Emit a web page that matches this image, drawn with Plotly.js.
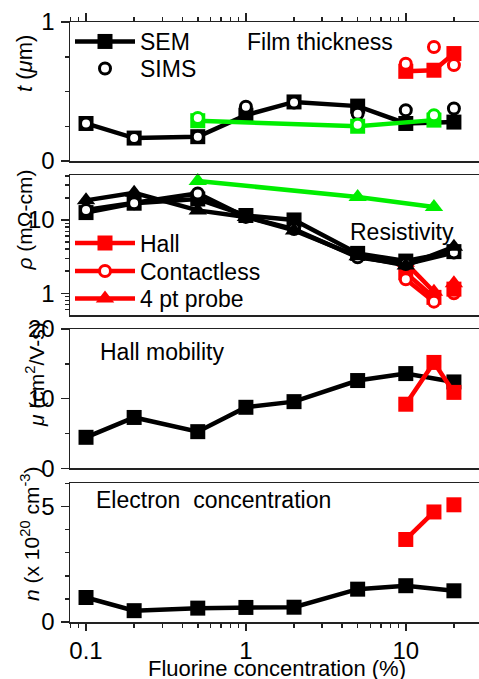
<!DOCTYPE html>
<html><head><meta charset="utf-8">
<script src="https://cdn.plot.ly/plotly-3.0.1.min.js"></script>
<style>html,body{margin:0;padding:0;background:#fff}#chart{width:479px;height:679px}</style>
</head><body><div id="chart"></div><script>
// Fluorine concentration (%)
const xMain = [0.1, 0.2, 0.5, 1, 2, 5, 10, 20];
const xGreen = [0.5, 5, 15];
const xRed = [10, 15, 20];

// Film thickness t (um)
const tSemBlack = [0.27, 0.165, 0.175, 0.33, 0.425, 0.395, 0.27, 0.28];
const tSimsBlack = [0.27, 0.165, 0.175, 0.39, 0.42, 0.34, 0.366, 0.378];
const tSemGreen = [0.29, 0.25, 0.294];
const tSimsGreen = [0.31, 0.26, 0.33];
const tSemRed = [0.645, 0.653, 0.773];
const tSimsRed = [0.70, 0.82, 0.69];

// Resistivity rho (mOhm-cm)
const rhoHallBlack = [12.6, 16.9, 19.3, 11.5, 10, 3.5, 2.75, 3.7];
const rhoContBlack = [13.7, 16.9, 23, 11, 7.5, 3.1, 2.5, 3.6];
const rho4ptBlack = [18.5, 23.5, 13.5, 11, 7.2, 3.2, 2.4, 4.3];
const rho4ptGreen = [34, 20.5, 15];
const rhoHallRed = [1.9, 0.88, 1.14];
const rhoContRed = [1.55, 0.77, 1.0];
const rho4ptRed = [2.6, 1.05, 1.37];

// Hall mobility (cm2/V-s)
const muBlack = [4.45, 7.3, 5.26, 8.76, 9.57, 12.6, 13.6, 12.4];
const muRed = [9.2, 15.2, 10.9];

// Electron concentration (1e20 cm^-3)
const nBlack = [1.06, 0.49, 0.6, 0.63, 0.64, 1.42, 1.57, 1.35];
const nRed = [3.57, 4.76, 5.07];

// Tick labels
const xTickVals = [0.1, 1, 10];
const xTickText = ['0.1', '1', '10'];
const xMinorVals = [0.08, 0.09, 0.2, 0.3, 0.4, 0.5, 0.6, 0.7, 0.8, 0.9, 2, 3, 4, 5, 6, 7, 8, 9, 20];
const tTickVals = [0, 1];
const tMinorVals = [0.25, 0.5, 0.75];
const rhoTickVals = [1, 10];
const rhoTickText = ['1', '10'];
const rhoMinorVals = [0.6, 0.7, 0.8, 0.9, 2, 3, 4, 5, 6, 7, 8, 9, 20, 30, 40];
const muTickVals = [0, 10, 20];
const muMinorVals = [5, 15];
const nTickVals = [0, 5];
const nMinorVals = [1, 2, 3, 4, 6];

const W = 479, H = 679, ML = 70, MR = 0, MT = 22, MB = 57;
const PH = H - MT - MB, PW = W - ML - MR;
const py = y => (H - MB - y) / PH;
const px = x => (x - ML) / PW;

const FONT = 'Liberation Sans, Arial, sans-serif';
const BLACK = '#000000', RED = '#ff0000', GREEN = '#00ee00';
const LW = 4.5;
const TXT = 23;

function sq(c) { return {symbol: 'square', size: 15, color: c, line: {width: 0}}; }
function circ(c) { return {symbol: 'circle', size: 11, color: '#ffffff', line: {color: c, width: 3}}; }
function tri(c) { return {symbol: 'triangle-up', size: 16, color: c, line: {width: 0}}; }

function tr(x, y, xa, ya, mode, marker, color, extra) {
  return Object.assign({x: x, y: y, xaxis: xa, yaxis: ya, mode: mode, marker: marker,
    line: {color: color, width: LW}, showlegend: false, hoverinfo: 'skip', cliponaxis: false}, extra || {});
}

const traces = [
  // Panel 1: film thickness
  tr(xMain, tSemBlack, 'x2', 'y', 'lines+markers', sq(BLACK), BLACK, {name: 'SEM', showlegend: true, legend: 'legend'}),
  tr(xMain, tSimsBlack, 'x2', 'y', 'markers', circ(BLACK), BLACK, {name: 'SIMS', showlegend: true, legend: 'legend2'}),
  tr(xGreen, tSemGreen, 'x2', 'y', 'lines+markers', sq(GREEN), GREEN),
  tr(xGreen, tSimsGreen, 'x2', 'y', 'markers', circ(GREEN), GREEN),
  tr(xRed, tSemRed, 'x2', 'y', 'lines+markers', sq(RED), RED),
  tr(xRed, tSimsRed, 'x2', 'y', 'markers', circ(RED), RED),

  // Panel 2: resistivity (red first, drawn under black)
  tr(xRed.slice(0, 2), rhoHallRed.slice(0, 2), 'x3', 'y2', 'lines+markers', sq(RED), RED, {name: 'Hall', showlegend: true, legend: 'legend3'}),
  tr(xRed.slice(0, 2), rhoContRed.slice(0, 2), 'x3', 'y2', 'lines+markers', circ(RED), RED, {name: 'Contactless', showlegend: true, legend: 'legend4'}),
  tr(xRed.slice(0, 2), rho4ptRed.slice(0, 2), 'x3', 'y2', 'lines+markers', tri(RED), RED, {name: '4 pt probe', showlegend: true, legend: 'legend5'}),
  tr(xRed.slice(2), rhoContRed.slice(2), 'x3', 'y2', 'markers', circ(RED), RED),
  tr(xRed.slice(2), rhoHallRed.slice(2), 'x3', 'y2', 'markers', sq(RED), RED),
  tr(xRed.slice(2), rho4ptRed.slice(2), 'x3', 'y2', 'markers', tri(RED), RED),
  tr(xMain, rhoHallBlack, 'x3', 'y2', 'lines+markers', sq(BLACK), BLACK),
  tr(xMain, rhoContBlack, 'x3', 'y2', 'lines+markers', circ(BLACK), BLACK),
  tr(xMain, rho4ptBlack, 'x3', 'y2', 'lines+markers', tri(BLACK), BLACK),
  tr(xGreen, rho4ptGreen, 'x3', 'y2', 'lines+markers', tri(GREEN), GREEN),

  // Panel 3: Hall mobility
  tr(xMain, muBlack, 'x4', 'y3', 'lines+markers', sq(BLACK), BLACK),
  tr(xRed, muRed, 'x4', 'y3', 'lines+markers', sq(RED), RED),

  // Panel 4: electron concentration
  tr(xMain, nBlack, 'x', 'y4', 'lines+markers', sq(BLACK), BLACK),
  tr(xRed.slice(0, 2), nRed.slice(0, 2), 'x', 'y4', 'lines', sq(RED), RED),
  tr(xRed, nRed, 'x', 'y4', 'markers', sq(RED), RED)
];

const AXC = '#222222';
const TICKFONT = {size: 24, family: FONT, color: '#000'};
const xRange = [Math.log10(0.0794), Math.log10(28.7)];
function minor(vals) {
  return {tickmode: 'array', tickvals: vals, ticks: 'outside', ticklen: 4, tickwidth: 1.5, tickcolor: AXC};
}
function xax(anchor, opts) {
  return Object.assign({type: 'log', range: xRange, anchor: anchor, showline: true, linecolor: AXC, linewidth: 1.5,
    mirror: true, showgrid: false, zeroline: false, ticks: '', showticklabels: false, fixedrange: true}, opts || {});
}
function yax(anchor, dom, opts) {
  return Object.assign({anchor: anchor, domain: dom, showline: true, linecolor: AXC, linewidth: 1.5, mirror: false,
    showgrid: false, zeroline: false, ticks: 'outside', ticklen: 8, tickwidth: 1.5, tickcolor: AXC,
    tickmode: 'array', tickfont: TICKFONT, ticklabelstandoff: 1}, opts || {});
}
function leg(yc) {
  return {x: 0, xanchor: 'left', y: py(yc), yanchor: 'middle', bgcolor: 'rgba(0,0,0,0)', borderwidth: 0,
    font: {size: TXT, family: FONT, color: '#000'}, itemwidth: 60, tracegroupgap: 0, traceorder: 'normal'};
}

const layout = {
  width: W, height: H,
  margin: {l: ML, r: MR, t: MT, b: MB, pad: 0},
  paper_bgcolor: '#ffffff', plot_bgcolor: '#ffffff',
  font: {family: FONT, size: TXT, color: '#000'},
  xaxis: xax('y4', {
    ticks: 'outside', ticklen: 7, tickwidth: 1.5, tickcolor: AXC, showticklabels: true,
    tickmode: 'array', tickvals: xTickVals, ticktext: xTickText, tickfont: TICKFONT, ticklabelstandoff: 0,
    minor: minor(xMinorVals)
  }),
  xaxis2: xax('y', {
    matches: 'x', side: 'top', ticks: 'outside', ticklen: 8, tickwidth: 1.5, tickcolor: AXC,
    tickmode: 'array', tickvals: xTickVals, ticktext: xTickText, minor: minor(xMinorVals)
  }),
  xaxis3: xax('y2', {matches: 'x'}),
  xaxis4: xax('y3', {matches: 'x'}),
  yaxis: yax('x2', [py(161), 1], {range: [0, 1], tickvals: tTickVals, minor: minor(tMinorVals)}),
  yaxis2: yax('x3', [py(315), py(175)], {type: 'log', range: [Math.log10(0.506), Math.log10(41)],
    tickvals: rhoTickVals, ticktext: rhoTickText, minor: minor(rhoMinorVals)}),
  yaxis3: yax('x4', [py(468.3), py(329)], {range: [0, 20], tickvals: muTickVals, minor: minor(muMinorVals)}),
  yaxis4: yax('x', [0, py(483.3)], {range: [0, 6], tickvals: nTickVals, minor: minor(nMinorVals)}),
  legend: leg(41.5),
  legend2: leg(68.5),
  legend3: leg(243),
  legend4: leg(271),
  legend5: leg(298.5),
  annotations: [
    {text: 'Film thickness', x: px(245), y: py(42), xanchor: 'left'},
    {text: 'Resistivity', x: px(348), y: py(232), xanchor: 'left'},
    {text: 'Hall mobility', x: px(98), y: py(352), xanchor: 'left'},
    {text: 'Electron\u00a0 concentration', x: px(94), y: py(500), xanchor: 'left'},
    {text: 'Fluorine concentration (%)', x: px(276.5), y: py(668.5), font: {size: 22}},
    {text: '<i>t</i> (<i>\u03bc</i>m)', x: px(25), y: py(64), textangle: -90, font: {size: 22}},
    {text: '<i>\u03c1</i> (m\u03a9-cm)', x: px(24.5), y: py(220), textangle: -90, font: {size: 21}},
    {text: '<i>\u03bc</i> (cm<sup>2</sup>/V-s)', x: px(35), y: py(375), textangle: -90, font: {size: 21}},
    {text: '<i>n</i> (x 10<sup>20</sup> cm<sup>-3</sup>)', x: px(30), y: py(534), textangle: -90, font: {size: 21}}
  ].map(a => Object.assign({xref: 'paper', yref: 'paper', showarrow: false, yanchor: 'middle',
    xanchor: 'center'}, a,
    {font: Object.assign({size: TXT, family: FONT, color: '#000'}, a.font || {})}))
};

Plotly.newPlot('chart', traces, layout, {staticPlot: true, displayModeBar: false});
</script></body></html>
